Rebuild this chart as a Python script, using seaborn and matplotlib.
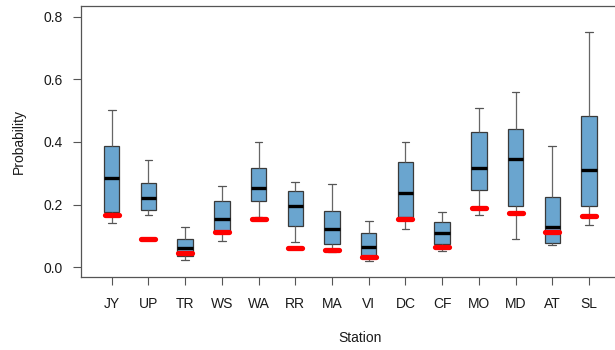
import matplotlib
matplotlib.use("Agg")
import matplotlib.pyplot as plt
import numpy as np
import pandas as pd
import seaborn as sns
from matplotlib.markers import MarkerStyle

stations = ["JY", "UP", "TR", "WS", "WA", "RR", "MA", "VI",
            "DC", "CF", "MO", "MD", "AT", "SL"]

# five-number summaries: low whisker, Q1, median, Q3, high whisker
whisker_low = [0.140, 0.168, 0.023, 0.085, 0.160, 0.080, 0.048, 0.020,
               0.123, 0.052, 0.168, 0.089, 0.071, 0.135]
q1 = [0.178, 0.182, 0.036, 0.114, 0.212, 0.131, 0.074, 0.036,
      0.162, 0.073, 0.247, 0.197, 0.076, 0.195]
median = [0.284, 0.221, 0.060, 0.155, 0.254, 0.194, 0.122, 0.066,
          0.238, 0.110, 0.318, 0.346, 0.128, 0.310]
q3 = [0.387, 0.269, 0.091, 0.211, 0.318, 0.245, 0.180, 0.109,
      0.335, 0.145, 0.433, 0.441, 0.223, 0.484]
whisker_high = [0.502, 0.344, 0.128, 0.261, 0.400, 0.272, 0.265, 0.149,
                0.400, 0.177, 0.509, 0.561, 0.388, 0.752]

# red reference values per station
reference = [0.168, 0.089, 0.044, 0.112, 0.155, 0.061, 0.055, 0.032,
             0.155, 0.064, 0.188, 0.172, 0.113, 0.164]

# five points per station -> quartiles land exactly on the summary values
rows = []
for i, st in enumerate(stations):
    for v in (whisker_low[i], q1[i], median[i], q3[i], whisker_high[i]):
        rows.append({"station": st, "value": v})
df = pd.DataFrame(rows)
df_ref = pd.DataFrame({"station": stations, "value": reference})

sns.set_style("white")
plt.rcParams["font.family"] = ["Liberation Sans", "DejaVu Sans"]
plt.rcParams["font.size"] = 10

fig = plt.figure(figsize=(6.15, 3.5), dpi=100)
ax = fig.add_axes([80.5 / 615, 1 - 277.3 / 350, 560 / 615, 271 / 350])

edge = "#3a3a3a"
sns.boxplot(
    data=df,
    x="station",
    y="value",
    order=stations,
    whis=(0, 100),
    width=0.42,
    color="#6aa5cf",
    saturation=1,
    linecolor=edge,
    linewidth=0.9,
    showfliers=False,
    medianprops=dict(color="black", linewidth=2.4),
    whiskerprops=dict(color="#666666", linewidth=0.9),
    capprops=dict(color="#555555", linewidth=0.9),
    ax=ax,
)

sns.pointplot(
    data=df_ref,
    x="station",
    y="value",
    order=stations,
    color="red",
    linestyle="none",
    marker="_",
    markersize=10.5,
    markeredgewidth=3.8,
    errorbar=None,
    ax=ax,
)
for line in ax.lines[-1:]:
    line.set_marker(MarkerStyle("_", capstyle="round"))
    line.set_zorder(5)

spacing = 36.72
ax.set_xlim(-31.2 / spacing, -31.2 / spacing + 560 / spacing)
ax.set_ylim(-0.032, 0.833)
ax.set_yticks([0.0, 0.2, 0.4, 0.6, 0.8])
ax.set_yticklabels(["0.0", "0.2", "0.4", "0.6", "0.8"])

for side in ["left", "right", "top", "bottom"]:
    ax.spines[side].set_visible(True)
    ax.spines[side].set_color("#555555")
    ax.spines[side].set_linewidth(0.9)

ax.tick_params(axis="both", direction="out", length=5.5, width=0.8,
               color="#555555", labelsize=10, labelcolor="#1a1a1a",
               bottom=True, left=True)
ax.tick_params(axis="y", pad=7)
ax.tick_params(axis="x", pad=9)
ax.set_xlabel("Station", fontsize=10, color="#1a1a1a", labelpad=14)
ax.set_ylabel("Probability", fontsize=10, color="#1a1a1a", labelpad=13)

fig.savefig("out.png", dpi=100)
